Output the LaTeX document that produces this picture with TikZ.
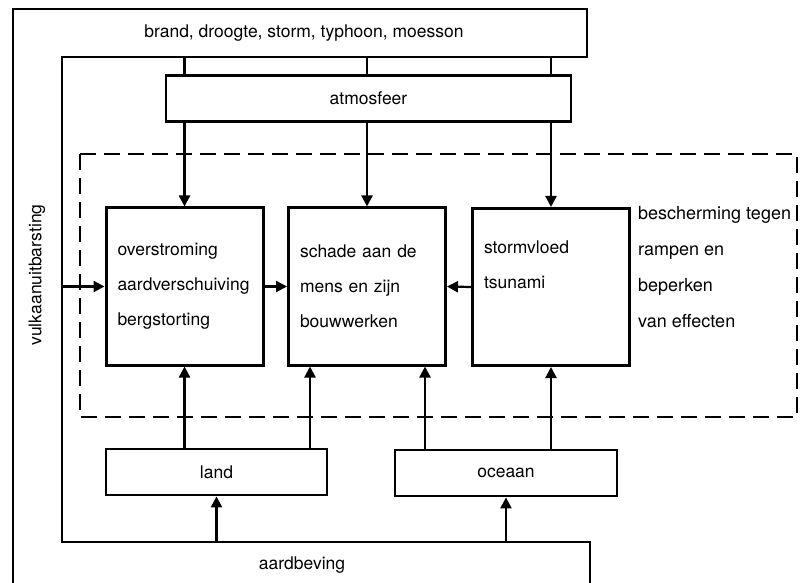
\documentclass[tikz,border=0pt]{standalone}
\usepackage{fontspec}
\setmainfont{TeX Gyre Heros}
\usetikzlibrary{arrows.meta}

\begin{document}
\begin{tikzpicture}[x=1pt, y=-1pt,
  hazard/.style={draw, rectangle, line width=3pt, inner sep=0pt, minimum width=157pt, minimum height=157pt, text width=134pt, align=left, font=\fontsize{17.5}{35}\selectfont},
  source/.style={draw, rectangle, line width=2.8pt, inner sep=0pt, minimum height=46pt, font=\fontsize{17.5}{20}\selectfont},
  band/.style={inner sep=0pt, font=\fontsize{17.5}{20}\selectfont},
  link/.style={line width=2.2pt},
  feed/.style={line width=2.2pt, -{Triangle[width=11pt,length=11pt]}},
  frame/.style={line width=2.8pt},
  zone/.style={line width=2.6pt, dash pattern=on 16pt off 8pt}]

\useasboundingbox (0,0) rectangle (804,583);

\coordinate (sky) at (62,57);
\coordinate (ground) at (62,542);
\draw[frame] (13,583) -- (13,9) -- (587,9) -- (587,57) -- (sky) -- (ground) -- (590,542) -- (590,583);
\draw[zone] (80,154) rectangle (797,417);

\node[band] (storms) at (304,33) {brand, droogte, storm, typhoon, moesson};
\node[band, rotate=90] (volcano) at (37,275) {vulkaanuitbarsting};
\node[band] (quake) at (302,565) {aardbeving};

\node[source, minimum width=405pt] (atmos) at (368.5,98.5) {atmosfeer};
\node[source, minimum width=221pt] (land) at (216.5,472) {land};
\node[source, minimum width=222pt] (ocean) at (506,473) {oceaan};

\node[hazard] (slides) at (184.5,286.5) {overstroming\\aardverschuiving\\bergstorting};
\node[hazard] (damage) at (367,286.5) {schade aan de\\mens en zijn\\bouwwerken};
\node[hazard] (floods) at (551,287) {stormvloed\\tsunami\\\strut};
\node[inner sep=0pt, anchor=north west, align=left, font=\fontsize{18}{36}\selectfont] (protect) at (638,206) {bescherming tegen\\rampen en\\beperken\\van effecten};

\coordinate (d1) at ([xshift=-57pt]damage.south);
\coordinate (d2) at ([xshift=58pt]damage.south);

\draw[link] (slides |- sky) -- (slides |- atmos.north);
\draw[link] (damage |- sky) -- (damage |- atmos.north);
\draw[link] (floods |- sky) -- (floods |- atmos.north);
\draw[feed] (slides |- atmos.south) -- (slides.north);
\draw[feed] (damage |- atmos.south) -- (damage.north);
\draw[feed] (floods |- atmos.south) -- (floods.north);

\draw[feed] (sky |- slides.west) -- (slides.west);
\draw[feed] (slides.east) -- (damage.west);
\draw[feed] (floods.west) -- (damage.east);

\draw[feed] (slides |- land.north) -- (slides.south);
\draw[feed] (d1 |- land.north) -- (d1);
\draw[feed] (d2 |- ocean.north) -- (d2);
\draw[feed] (floods |- ocean.north) -- (floods.south);

\draw[feed] (land |- ground) -- (land.south);
\draw[feed] (ocean |- ground) -- (ocean.south);
\end{tikzpicture}
\end{document}
